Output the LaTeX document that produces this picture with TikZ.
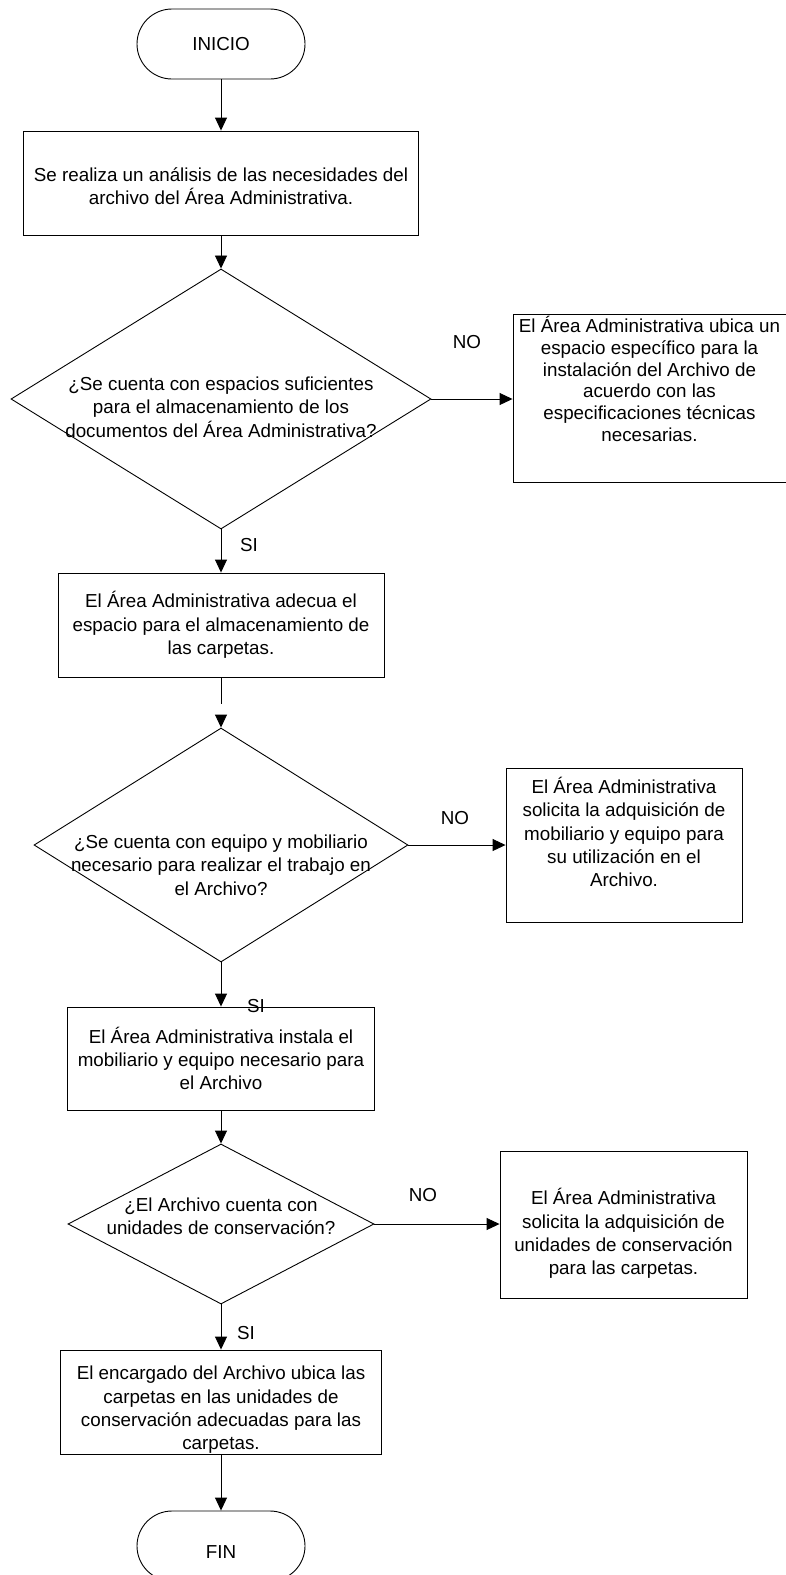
\documentclass[tikz,border=0pt]{standalone}
\usepackage{fontspec}
\setmainfont{Liberation Sans}
\usetikzlibrary{arrows.meta, shapes.geometric, shapes.misc}
\tikzset{
  every label/.style={
    align=center,
    inner sep=0pt,
    font=\fontsize{18.8}{23.3}\selectfont
  },
  terminal/.style={
    rounded rectangle,
    draw,
    line width=0.9pt,
    minimum width=168pt,
    minimum height=70pt,
    inner sep=0pt
  },
  process/.style={
    rectangle,
    draw,
    line width=0.9pt,
    inner sep=0pt
  },
  decision/.style={
    diamond,
    draw,
    line width=0.9pt,
    inner sep=0pt
  },
  flow/.style={
    -{Triangle[length=13pt, width=12pt]},
    line width=0.9pt
  },
  answer/.style={
    inner sep=0pt,
    font=\fontsize{18.8}{23.3}\selectfont
  }
}

\begin{document}
\begin{tikzpicture}[x=1pt, y=-1pt]
  \useasboundingbox (0,0) rectangle (786,1575);

  \node[terminal, label=center:INICIO] (ini) at (221,44) {};
  \node[process, minimum width=395pt, minimum height=104pt,
    label={[yshift=-3pt]center:{Se realiza un análisis de las necesidades del\\archivo del Área Administrativa.}}] (p1) at (221,183) {};
  \node[decision, minimum width=420pt, minimum height=260pt,
    label={[yshift=-8pt]center:{¿Se cuenta con espacios suficientes\\para el almacenamiento de los\\documentos del Área Administrativa?}}] (d1) at (221,399) {};
  \node[process, minimum width=273pt, minimum height=168pt,
    label={[yshift=19pt, font=\fontsize{18.8}{21.8}\selectfont]center:{El Área Administrativa ubica un\\espacio específico para la\\instalación del Archivo de\\acuerdo con las\\especificaciones técnicas\\necesarias.}}] (n1) at (649.5,398) {};
  \node[process, minimum width=326pt, minimum height=104pt,
    label={center:{El Área Administrativa adecua el\\espacio para el almacenamiento de\\las carpetas.}}] (p2) at (221,625) {};
  \node[decision, minimum width=374pt, minimum height=234pt,
    label={[yshift=-20pt]center:{¿Se cuenta con equipo y mobiliario\\necesario para realizar el trabajo en\\el Archivo?}}] (d2) at (221,845) {};
  \node[process, minimum width=236pt, minimum height=154pt,
    label={[yshift=13pt]center:{El Área Administrativa\\solicita la adquisición de\\mobiliario y equipo para\\su utilización en el\\Archivo.}}] (n2) at (624,845) {};
  \node[process, minimum width=307pt, minimum height=103pt,
    label={center:{El Área Administrativa instala el\\mobiliario y equipo necesario para\\el Archivo}}] (p3) at (221,1058.5) {};
  \node[decision, minimum width=306pt, minimum height=160pt,
    label={[yshift=8pt]center:{¿El Archivo cuenta con\\unidades de conservación?}}] (d3) at (221,1224) {};
  \node[process, minimum width=247pt, minimum height=147pt,
    label={[yshift=-9pt]center:{El Área Administrativa\\solicita la adquisición de\\unidades de conservación\\para las carpetas.}}] (n3) at (623.5,1224.5) {};
  \node[process, minimum width=321pt, minimum height=104pt,
    label={[yshift=-8pt]center:{El encargado del Archivo ubica las\\carpetas en las unidades de\\conservación adecuadas para las\\carpetas.}}] (p4) at (221,1402) {};
  \node[terminal, label={[yshift=-6pt]center:FIN}] (fin) at (221,1546) {};

  % answers
  \node[answer] (no1) at (467,342) {NO};
  \node[answer] (si1) at (249,545) {SI};
  \node[answer] (no2) at (455,818) {NO};
  \node[answer] (si2) at (256,1006) {SI};
  \node[answer] (no3) at (423,1195) {NO};
  \node[answer] (si3) at (246,1333) {SI};

  % the broken line above the second question
  \coordinate (gap1) at (221,704);
  \coordinate (gap2) at (221,715);

  \draw[flow] (ini) -- (p1);
  \draw[flow] (p1) -- (d1);
  \draw[flow] (d1.east) -- (d1.east -| n1.west);
  \draw[flow] (d1) -- (p2);
  \draw[line width=0.9pt] (p2) -- (gap1);
  \draw[flow] (gap2) -- (d2);
  \draw[flow] (d2.east) -- (d2.east -| n2.west);
  \draw[flow] (d2) -- (p3);
  \draw[flow] (p3) -- (d3);
  \draw[flow] (d3.east) -- (d3.east -| n3.west);
  \draw[flow] (d3) -- (p4);
  \draw[flow] (p4) -- (fin);
\end{tikzpicture}
\end{document}
